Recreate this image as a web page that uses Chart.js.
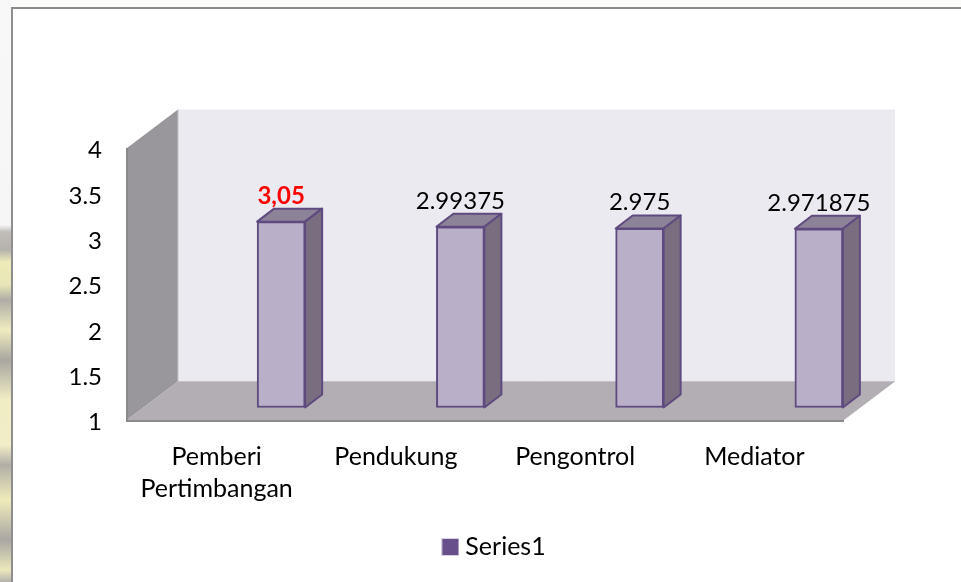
<!DOCTYPE html>
<html>
<head>
<meta charset="utf-8">
<style>
html,body{margin:0;padding:0;width:961px;height:582px;overflow:hidden;background:#fbfbfa}
#strip{position:absolute;left:0;top:0;width:11px;height:582px;background:linear-gradient(180deg,#f8f8f8 0,#f6f6f6 225px,#c0bdb9 232px,#b5b2ae 250px,#eeebb8 262px,#e8e5b8 285px,#b0aca6 300px,#efecc0 330px,#a9a69f 360px,#f0edc4 400px,#f1eec8 445px,#b2aea6 465px,#eeebbb 500px,#aaa6a2 540px,#ebe8bc 570px,#b5b2ad 582px)}
#frame{position:absolute;left:11px;top:7px;width:950px;height:575px;box-sizing:border-box;background:#fff;border-left:2px solid #8e8e8e;border-top:2px solid #8a8a8a}
#wrap{position:absolute;left:0;top:0;width:961px;height:582px}
canvas{display:block}
</style>
<script src="https://cdn.jsdelivr.net/npm/chart.js@4/dist/chart.umd.min.js"></script>
</head>
<body>
<div id="strip"></div>
<div id="frame"></div>
<div id="wrap"><canvas id="c" width="961" height="582"></canvas></div>
<script>
const categories = [["Pemberi","Pertimbangan"],"Pendukung","Pengontrol","Mediator"];
const seriesName = "Series1";
const seriesValues = [3.05,2.99375,2.975,2.971875];
const dataLabels = ["3,05","2.99375","2.975","2.971875"];
const labelColors = ["#ff0000","#000000","#000000","#000000"];
const labelBold = [true,false,false,false];

const FONT = "Lato, Carlito, sans-serif";
const WALL_DX = 51, WALL_DY = 38.5;    // depth of the 3D box
const BAR_SHIFT_X = 64.5, BAR_SHIFT_Y = -12.5; // where bars sit in the box
const BAR_DX = 17, BAR_DY = 13;        // depth of a bar

function poly(ctx, pts, fill, stroke, lw){
  ctx.beginPath();
  pts.forEach((p,i)=> i?ctx.lineTo(p[0],p[1]):ctx.moveTo(p[0],p[1]));
  ctx.closePath();
  if(fill){ctx.fillStyle=fill;ctx.fill();}
  if(stroke){ctx.strokeStyle=stroke;ctx.lineWidth=lw||1;ctx.stroke();}
}

const swatch = document.createElement('canvas');
swatch.width = 18; swatch.height = 18;
(function(){
  const s = swatch.getContext('2d');
  s.fillStyle = '#d8d2e2'; s.fillRect(0,0,18,18);
  s.fillStyle = '#674f8c'; s.fillRect(1,1,16,16);
})();

const box3d = {
  id:'box3d',
  beforeDatasetsDraw(chart){
    const {ctx,chartArea:a}=chart;
    const l=a.left,r=a.right,t=a.top,b=a.bottom;
    ctx.save();
    poly(ctx,[[l+WALL_DX,t-WALL_DY],[r+WALL_DX,t-WALL_DY],[r+WALL_DX,b-WALL_DY],[l+WALL_DX,b-WALL_DY]],'#eceaf1');
    poly(ctx,[[l,t],[l+WALL_DX,t-WALL_DY],[l+WALL_DX,b-WALL_DY],[l,b]],'#99979b');
    poly(ctx,[[l,b],[r,b],[r+WALL_DX,b-WALL_DY],[l+WALL_DX,b-WALL_DY]],'#b3aeb3');
    ctx.strokeStyle='#8b8b8b';ctx.lineWidth=2;
    ctx.beginPath();ctx.moveTo(l,t);ctx.lineTo(l,b+1);ctx.lineTo(r,b+1);ctx.stroke();
    ctx.strokeStyle='#c4c2c6';ctx.lineWidth=1;
    ctx.beginPath();ctx.moveTo(l+WALL_DX,t-WALL_DY);ctx.lineTo(l+WALL_DX,b-WALL_DY);ctx.lineTo(r+WALL_DX,b-WALL_DY);ctx.stroke();
    ctx.restore();
    const meta=chart.getDatasetMeta(0);
    ctx.save();
    ctx.translate(BAR_SHIFT_X,BAR_SHIFT_Y);
    ctx.lineJoin='round';
    meta.data.forEach(el=>{
      const x0=el.x-el.width/2,x1=el.x+el.width/2,y=el.y,base=el.base;
      poly(ctx,[[x0,y],[x1,y],[x1+BAR_DX,y-BAR_DY],[x0+BAR_DX,y-BAR_DY]],'#8d8398','#5f4a80',2);
      poly(ctx,[[x1,y],[x1+BAR_DX,y-BAR_DY],[x1+BAR_DX,base-BAR_DY],[x1,base]],'#786e80','#5f4a80',2);
    });
    ctx.restore();
  },
  beforeDatasetDraw(chart){
    chart.ctx.save();
    chart.ctx.translate(BAR_SHIFT_X,BAR_SHIFT_Y);
  },
  afterDatasetDraw(chart){
    chart.ctx.restore();
  },
  afterDatasetsDraw(chart){
    const {ctx}=chart;
    const meta=chart.getDatasetMeta(0);
    ctx.save();
    ctx.textAlign='center';ctx.textBaseline='alphabetic';
    meta.data.forEach((el,i)=>{
      ctx.fillStyle=labelColors[i];
      ctx.font=(labelBold[i]?'bold ':'')+'24px '+FONT;
      ctx.fillText(dataLabels[i],el.x+BAR_SHIFT_X,el.y+BAR_SHIFT_Y-18);
    });
    ctx.restore();
  }
};

new Chart(document.getElementById('c'),{
  type:'bar',
  data:{labels:categories,datasets:[{
    label:seriesName,data:seriesValues,base:1,
    backgroundColor:'#baafc8',borderColor:'#5f4a80',borderWidth:2,borderSkipped:false,
    barThickness:48,clip:false
  }]},
  plugins:[box3d],
  options:{
    responsive:false,animation:false,
    layout:{padding:{left:32.5,right:0,top:148,bottom:12.5}},
    plugins:{
      tooltip:{enabled:false},title:{display:false},
      legend:{position:'bottom',align:'center',
        labels:{usePointStyle:true,pointStyleWidth:5,boxHeight:18,color:'#000',font:{family:FONT,size:25},padding:10.5,
          generateLabels(){return [{text:seriesName,pointStyle:swatch,fillStyle:'#674f8c',strokeStyle:'#d8d2e2',lineWidth:0,datasetIndex:0}];}}}
    },
    scales:{
      x:{offset:true,grid:{display:false},border:{display:false},
        afterFit(s){s.height+=6;},
        ticks:{color:'#000',font:{family:FONT,size:25,lineHeight:1.28},padding:13,maxRotation:0,minRotation:0,autoSkip:false}},
      y:{min:1,max:4,grid:{display:false},border:{display:false},
        afterFit(s){s.width=94.5;},
        ticks:{stepSize:0.5,color:'#000',font:{family:FONT,size:24},padding:17,labelOffset:2.5,
          callback:v=>String(v)}},
      pad:{position:'right',grid:{display:false},border:{display:false},ticks:{display:false},
        afterFit(s){s.width=117;}}
    }
  }
});
</script>
</body>
</html>
